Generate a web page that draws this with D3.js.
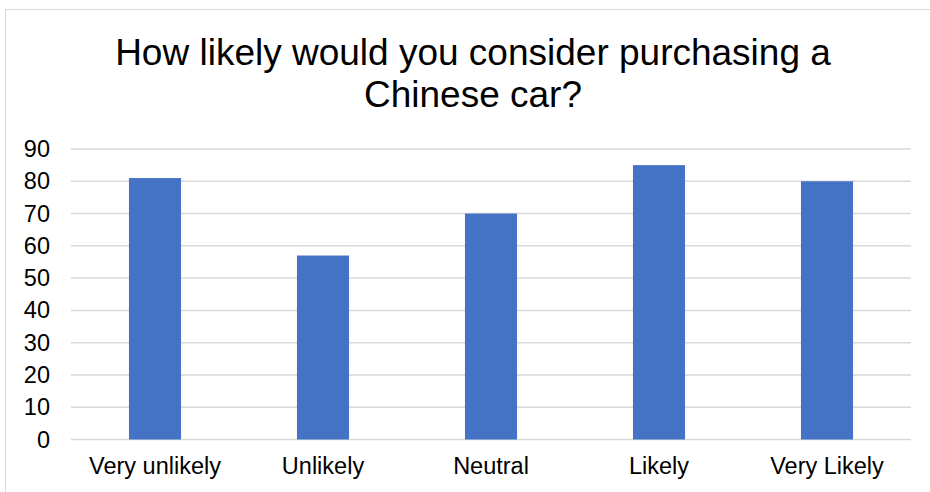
<!DOCTYPE html>
<html>
<head>
<meta charset="utf-8">
<script src="https://cdn.jsdelivr.net/npm/d3@7"></script>
<style>
  html, body { margin: 0; padding: 0; background: #fff; }
  svg { display: block; }
  text { font-family: "Liberation Sans", Arial, sans-serif; fill: #000; }
</style>
</head>
<body>
<svg id="chart" width="930" height="492"></svg>
<script>
// Survey responses
const categories = ["Very unlikely", "Unlikely", "Neutral", "Likely", "Very Likely"];
const values = [81, 57, 70, 85, 80];
const yTicks = [0, 10, 20, 30, 40, 50, 60, 70, 80, 90];
const titleLines = ["How likely would you consider purchasing a", "Chinese car?"];

const svg = d3.select("#chart");
const W = 930, H = 492;

// Chart frame
svg.append("rect")
  .attr("x", 5.5).attr("y", 9.5)
  .attr("width", W + 20).attr("height", H + 20)
  .attr("fill", "#fff")
  .attr("stroke", "#d9d9d9")
  .attr("stroke-width", 1);

const plot = { left: 71, right: 911, top: 149, bottom: 439.5 };

const x = d3.scaleBand()
  .domain(categories)
  .range([plot.left, plot.right])
  .paddingInner(0.69)
  .paddingOuter(0.345);

const y = d3.scaleLinear()
  .domain([0, 90])
  .range([plot.bottom, plot.top]);

// Title
const title = svg.append("text")
  .attr("text-anchor", "middle")
  .attr("font-size", 37);
titleLines.forEach((line, i) => {
  title.append("tspan")
    .attr("x", 473)
    .attr("y", 65 + i * 42)
    .text(line);
});

// Gridlines
svg.append("g")
  .selectAll("line")
  .data(yTicks)
  .join("line")
  .attr("x1", plot.left).attr("x2", plot.right)
  .attr("y1", d => y(d)).attr("y2", d => y(d))
  .attr("stroke", "#d9d9d9")
  .attr("stroke-width", 1.5);

// Y axis labels
const yAxis = d3.axisLeft(y).tickValues(yTicks).tickSize(0).tickPadding(21);
const gy = svg.append("g")
  .attr("transform", `translate(${plot.left},0)`)
  .call(yAxis);
gy.select(".domain").remove();
gy.selectAll("text")
  .attr("font-size", 23.5)
  .attr("font-family", "'Liberation Sans', Arial, sans-serif")
  .attr("fill", "#000");

// Bars
svg.append("g")
  .selectAll("rect")
  .data(values)
  .join("rect")
  .attr("x", (d, i) => x(categories[i]))
  .attr("y", d => y(d))
  .attr("width", x.bandwidth())
  .attr("height", d => y(0) - y(d))
  .attr("fill", "#4472c4");

// X axis labels
const xAxis = d3.axisBottom(x).tickSize(0).tickPadding(18);
const gx = svg.append("g")
  .attr("transform", `translate(0,${plot.bottom})`)
  .call(xAxis);
gx.select(".domain").remove();
gx.selectAll("text")
  .attr("font-size", 23.5)
  .attr("font-family", "'Liberation Sans', Arial, sans-serif")
  .attr("fill", "#000");
</script>
</body>
</html>
